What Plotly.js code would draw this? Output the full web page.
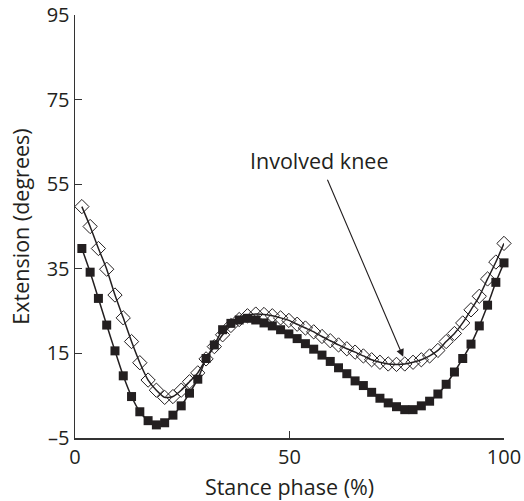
<!DOCTYPE html>
<html>
<head>
<meta charset="utf-8">
<script src="https://cdn.plot.ly/plotly-3.0.1.min.js"></script>
<style>html,body{margin:0;padding:0;background:#fff;}#chart{width:524px;height:501px;}</style>
</head>
<body>
<div id="chart"></div>
<script>
// Stance phase (%) sample positions
var stancePhase = [1.6, 3.53, 5.46, 7.39, 9.32, 11.25, 13.18, 15.11, 17.04, 18.97,
  20.9, 22.83, 24.76, 26.69, 28.62, 30.55, 32.48, 34.41, 36.34, 38.27,
  40.2, 42.13, 44.06, 45.99, 47.92, 49.85, 51.78, 53.71, 55.64, 57.57,
  59.5, 61.43, 63.36, 65.29, 67.22, 69.15, 71.08, 73.01, 74.94, 76.87,
  78.8, 80.73, 82.66, 84.59, 86.52, 88.45, 90.38, 92.31, 94.24, 96.17, 98.1, 100];

// Involved knee (open diamonds)
var involvedKnee = [49.7, 45.0, 39.8, 34.9, 28.8, 23.4, 17.8, 12.8, 8.7, 6.3,
  4.6, 4.8, 6.3, 8.3, 10.4, 13.7, 16.6, 19.4, 21.6, 23.0,
  23.9, 24.3, 24.2, 23.9, 23.4, 22.8, 21.9, 21.0, 20.1, 19.0,
  18.0, 17.0, 16.1, 15.3, 14.4, 13.5, 12.9, 12.5, 12.4, 12.5,
  12.9, 13.5, 14.4, 15.7, 17.8, 19.7, 22.2, 25.3, 28.5, 32.6, 36.6, 41.0];

// Other knee (filled squares)
var otherKnee = [39.8, 34.2, 28.0, 21.7, 15.6, 9.7, 4.8, 1.2, -0.9, -1.9,
  -1.4, 0.4, 2.6, 5.6, 8.9, 13.8, 17.0, 20.6, 22.1, 22.9,
  23.3, 22.9, 22.2, 21.5, 20.6, 19.6, 18.5, 17.3, 16.0, 14.6,
  13.1, 11.6, 10.2, 8.5, 7.4, 5.8, 4.4, 3.3, 2.4, 1.7,
  1.7, 2.6, 3.7, 5.4, 7.7, 10.6, 13.8, 17.2, 21.5, 26.4, 31.8, 36.4];

var xTicks = [0, 50, 100];
var xTickLabels = ['0', '50', '100'];
var yTicks = [-5, 15, 35, 55, 75, 95];
var yTickLabels = ['\u20135', '15', '35', '55', '75', '95'];
var xTitle = 'Stance phase (%)';
var yTitle = 'Extension (degrees)';
var annotationText = 'Involved knee';

var font = 'Open Sans, Noto Sans, sans-serif';
var ink = '#231f20';

var traces = [
  {
    x: stancePhase, y: involvedKnee, type: 'scatter', mode: 'lines+markers',
    line: {color: ink, width: 1.5, shape: 'spline', smoothing: 0.6},
    marker: {symbol: 'diamond-open', size: 11, color: ink, line: {width: 1, color: ink}},
    cliponaxis: false, showlegend: false
  },
  {
    x: stancePhase, y: otherKnee, type: 'scatter', mode: 'lines+markers',
    line: {color: ink, width: 1.5, shape: 'spline', smoothing: 0.6},
    marker: {symbol: 'square', size: 9, color: ink},
    cliponaxis: false, showlegend: false
  }
];

var layout = {
  width: 524, height: 501,
  margin: {l: 75, r: 20, t: 15, b: 63},
  paper_bgcolor: '#fff', plot_bgcolor: '#fff',
  font: {family: font, size: 20, color: ink},
  xaxis: {
    range: [0, 100], tickvals: xTicks, ticktext: xTickLabels,
    ticks: 'inside', ticklen: 7, tickwidth: 1.2, tickcolor: '#333',
    showline: true, linecolor: '#333', linewidth: 1.5,
    showgrid: false, zeroline: false,
    tickfont: {family: font, size: 20, color: ink},
    title: {text: xTitle, font: {family: font, size: 21.5, color: ink}, standoff: 11}
  },
  yaxis: {
    range: [-5, 95], tickvals: yTicks, ticktext: yTickLabels,
    ticks: 'inside', ticklen: 7, tickwidth: 1.2, tickcolor: '#333',
    showline: true, linecolor: '#333', linewidth: 1.5,
    showgrid: false, zeroline: false,
    tickfont: {family: font, size: 20, color: ink},
    title: {text: yTitle, font: {family: font, size: 21.5, color: ink}, standoff: 11}
  },
  annotations: [
    {
      x: 56.8, y: 60.7, xref: 'x', yref: 'y', text: annotationText,
      showarrow: false, font: {family: font, size: 21.5, color: ink}
    },
    {
      x: 76.5, y: 14.2, xref: 'x', yref: 'y', axref: 'x', ayref: 'y',
      ax: 58.7, ay: 56.4, text: '', showarrow: true,
      arrowhead: 2, arrowsize: 1.4, arrowwidth: 1.1, arrowcolor: ink
    }
  ]
};

Plotly.newPlot('chart', traces, layout, {staticPlot: true, displayModeBar: false});
</script>
</body>
</html>
